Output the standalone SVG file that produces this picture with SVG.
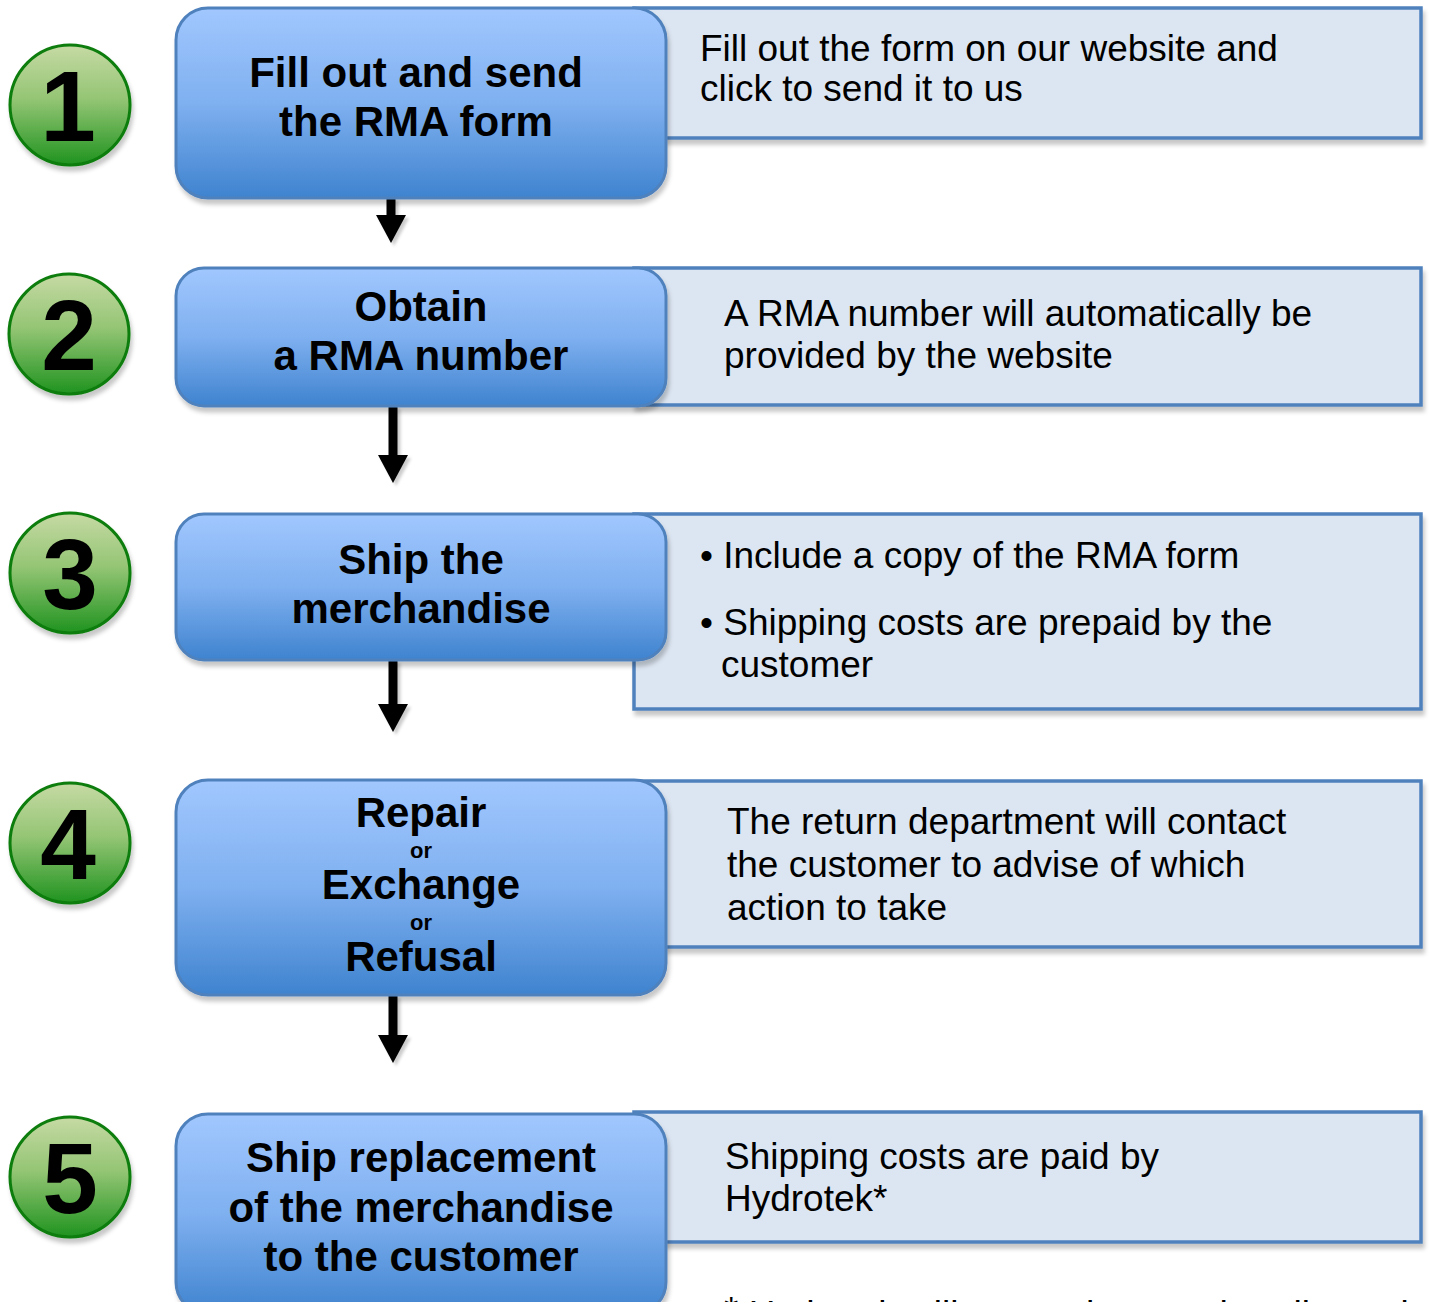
<svg xmlns="http://www.w3.org/2000/svg" width="1429" height="1302" viewBox="0 0 1429 1302">
<defs>
<linearGradient id="gBlue" x1="0" y1="0" x2="0" y2="1">
<stop offset="0" stop-color="#a1c7fe"/>
<stop offset="0.5" stop-color="#7fb0f0"/>
<stop offset="1" stop-color="#3f83cf"/>
</linearGradient>
<linearGradient id="gGreen" x1="0" y1="0" x2="0" y2="1">
<stop offset="0" stop-color="#c6daa4"/>
<stop offset="0.45" stop-color="#94c574"/>
<stop offset="1" stop-color="#1f931f"/>
</linearGradient>
<filter id="sh" x="-10%" y="-10%" width="125%" height="130%">
<feDropShadow dx="2" dy="5" stdDeviation="2" flood-color="#000" flood-opacity="0.22"/>
</filter>
<filter id="ash" filterUnits="userSpaceOnUse" x="0" y="0" width="1429" height="1302">
<feDropShadow dx="3" dy="3" stdDeviation="1.5" flood-color="#000" flood-opacity="0.2"/>
</filter>
<marker id="ah" viewBox="0 0 28 30" refX="0" refY="15" markerWidth="28" markerHeight="30" markerUnits="userSpaceOnUse" orient="auto">
<path d="M0,0 L28,15 L0,30 Z" fill="#000"/>
</marker>
<style>
.step{fill:url(#gBlue);stroke:#4f81bd;stroke-width:3;filter:url(#sh)}
.info{fill:#dce6f2;stroke:#4f81bd;stroke-width:3.5;filter:url(#sh)}
.num{fill:url(#gGreen);stroke:#0d7d0d;stroke-width:3;filter:url(#sh)}
.numt{font-family:"Liberation Sans",Arial,sans-serif;font-weight:bold;font-size:100px;fill:#000;text-anchor:middle}
.title{font-family:"Liberation Sans",Arial,sans-serif;font-weight:bold;font-size:42px;fill:#000;text-anchor:middle}
.small{font-family:"Liberation Sans",Arial,sans-serif;font-weight:bold;font-size:22px;fill:#000;text-anchor:middle}
.desc{font-family:"Liberation Sans",Arial,sans-serif;font-size:37px;fill:#000}
.arr{stroke:#000;stroke-width:9;fill:none}
</style>
</defs>
<rect width="1429" height="1302" fill="#fff"/>

<g id="info1"><rect class="info" x="634" y="8" width="787" height="130"/>
<text class="desc" x="700" y="61">Fill out the form on our website and</text>
<text class="desc" x="700" y="101">click to send it to us</text></g>
<g id="info2"><rect class="info" x="634" y="268" width="787" height="137"/>
<text class="desc" x="724" y="326">A RMA number will automatically be</text>
<text class="desc" x="724" y="368">provided by the website</text></g>
<g id="info3"><rect class="info" x="634" y="514" width="787" height="195"/>
<text class="desc" x="700" y="568">• Include a copy of the RMA form</text>
<text class="desc" x="700" y="635">• Shipping costs are prepaid by the</text>
<text class="desc" x="721" y="677">customer</text></g>
<g id="info4"><rect class="info" x="634" y="781" width="787" height="166"/>
<text class="desc" x="727" y="834">The return department will contact</text>
<text class="desc" x="727" y="877">the customer to advise of which</text>
<text class="desc" x="727" y="920">action to take</text></g>
<g id="info5"><rect class="info" x="634" y="1112" width="787" height="130"/>
<text class="desc" x="725" y="1169">Shipping costs are paid by</text>
<text class="desc" x="725" y="1211">Hydrotek*</text></g>
<g id="footnote"><text class="desc" x="724" y="1327"><tspan dy="-4">*</tspan><tspan dy="4"> Hydrotek will return the merchandise at its cost to the customer</tspan></text></g>

<g id="connectors" filter="url(#ash)">
<line class="arr" x1="391" y1="198" x2="391" y2="215" marker-end="url(#ah)"/>
<line class="arr" x1="393" y1="406" x2="393" y2="455" marker-end="url(#ah)"/>
<line class="arr" x1="393" y1="660" x2="393" y2="704" marker-end="url(#ah)"/>
<line class="arr" x1="393" y1="995" x2="393" y2="1035" marker-end="url(#ah)"/>
</g>

<g id="step1"><rect class="step" x="176" y="8" width="490" height="190" rx="32"/>
<text class="title" x="416" y="87">Fill out and send</text>
<text class="title" x="416" y="136">the RMA form</text></g>
<g id="step2"><rect class="step" x="176" y="268" width="490" height="138" rx="28"/>
<text class="title" x="421" y="321">Obtain</text>
<text class="title" x="421" y="370">a RMA number</text></g>
<g id="step3"><rect class="step" x="176" y="514" width="490" height="146" rx="28"/>
<text class="title" x="421" y="574">Ship the</text>
<text class="title" x="421" y="623">merchandise</text></g>
<g id="step4"><rect class="step" x="176" y="780" width="490" height="215" rx="32"/>
<text class="title" x="421" y="827">Repair</text>
<text class="small" x="421" y="858">or</text>
<text class="title" x="421" y="899">Exchange</text>
<text class="small" x="421" y="930">or</text>
<text class="title" x="421" y="971">Refusal</text></g>
<g id="step5"><rect class="step" x="176" y="1114" width="490" height="200" rx="32"/>
<text class="title" x="421" y="1172">Ship replacement</text>
<text class="title" x="421" y="1222">of the merchandise</text>
<text class="title" x="421" y="1271">to the customer</text></g>

<g id="n1"><circle class="num" cx="70" cy="105" r="60"/><text class="numt" x="68" y="141">1</text></g>
<g id="n2"><circle class="num" cx="69" cy="334" r="60"/><text class="numt" x="69" y="370">2</text></g>
<g id="n3"><circle class="num" cx="70" cy="573" r="60"/><text class="numt" x="70" y="609">3</text></g>
<g id="n4"><circle class="num" cx="70" cy="843" r="60"/><text class="numt" x="68" y="879">4</text></g>
<g id="n5"><circle class="num" cx="70" cy="1177" r="60"/><text class="numt" x="70" y="1213">5</text></g>
</svg>
